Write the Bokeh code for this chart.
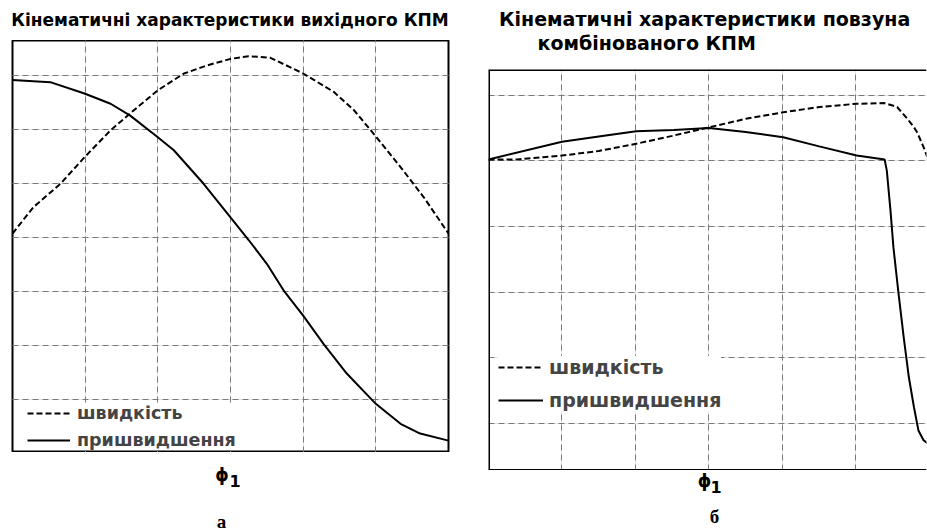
from bokeh.plotting import figure
from bokeh.models import Range1d, Grid, FixedTicker, Legend, LegendItem, Label, Span
from bokeh.layouts import row, column
from bokeh.embed import file_html
from bokeh.resources import INLINE

# ---------------- data: panel "а" ----------------
a_vel_phi = [0, 0.29, 0.66, 0.99, 1.35, 1.67, 2.0, 2.36, 2.68, 3.0, 3.25, 3.55, 4.0, 4.42, 4.70, 5.01, 5.34, 5.66, 6.0]
a_vel = [4.07, 4.56, 4.99, 5.48, 5.98, 6.35, 6.72, 7.03, 7.18, 7.30, 7.35, 7.32, 7.03, 6.69, 6.35, 5.85, 5.30, 4.74, 4.07]
a_acc_phi = [0, 0.52, 0.99, 1.35, 1.62, 2.0, 2.22, 2.63, 3.0, 3.25, 3.50, 3.73, 4.0, 4.28, 4.60, 5.0, 5.34, 5.61, 6.0]
a_acc = [6.91, 6.87, 6.66, 6.47, 6.25, 5.85, 5.61, 4.99, 4.37, 3.95, 3.51, 3.02, 2.55, 2.03, 1.48, 0.92, 0.55, 0.37, 0.24]
a_xticks = [1, 2, 3, 4, 5]
a_yticks = [1, 2, 3, 4, 5, 6, 7]

# ---------------- data: panel "б" ----------------
b_vel_phi = [0, 0.39, 1.0, 1.5, 2.01, 2.5, 3.0, 3.5, 4.01, 4.5, 5.01, 5.38, 5.51, 5.56, 5.70, 5.79, 5.83, 5.92, 5.97]
b_vel = [5.02, 5.02, 5.08, 5.15, 5.26, 5.38, 5.51, 5.64, 5.74, 5.82, 5.87, 5.88, 5.84, 5.82, 5.64, 5.51, 5.44, 5.21, 5.06]
b_acc_phi = [0, 1.0, 1.5, 2.01, 2.52, 3.0, 3.5, 4.01, 4.5, 5.01, 5.39, 5.42, 5.47, 5.51, 5.58, 5.65, 5.72, 5.79, 5.85, 5.92, 5.98]
b_acc = [5.02, 5.29, 5.37, 5.45, 5.47, 5.50, 5.44, 5.36, 5.22, 5.08, 5.02, 4.85, 4.24, 3.68, 2.97, 2.31, 1.70, 1.24, 0.89, 0.74, 0.69]
b_xticks = [1, 2, 3, 4, 5]
b_yticks = [1, 2, 3, 4, 5, 6]

title_a = "Кінематичні характеристики вихідного КПМ"
title_b1 = "Кінематичні характеристики повзуна"
title_b2 = "комбінованого КПМ"
lbl_vel = "швидкість"
lbl_acc = "пришвидшення"
phi_txt = "ϕ"
sub_txt = "1"
cap_a = "а"
cap_b = "б"

SANS = "DejaVu Sans"
SERIF = "Liberation Serif"
GRID_COLOR = "#7a7a7a"


def add_grids(p, xt, yt):
    p.add_layout(Grid(dimension=0, ticker=FixedTicker(ticks=xt), grid_line_color=GRID_COLOR,
                      grid_line_dash="6 4", grid_line_width=1))
    p.add_layout(Grid(dimension=1, ticker=FixedTicker(ticks=yt), grid_line_color=GRID_COLOR,
                      grid_line_dash="6 4", grid_line_width=1))


def text_fig(fw, h, left, right):
    # a text strip whose frame lines up with the plot below/above it
    f = figure(frame_width=fw, frame_height=h, x_range=Range1d(0, fw), y_range=Range1d(0, h),
               min_border_left=left, min_border_right=right,
               min_border_top=0, min_border_bottom=0,
               x_axis_location=None, y_axis_location=None,
               output_backend="svg", toolbar_location=None)
    f.outline_line_color = None
    f.xgrid.visible = False
    f.ygrid.visible = False
    f.background_fill_color = "white"
    f.border_fill_color = "white"
    return f


def txt(f, x, y, s, font, size, align="left"):
    f.add_layout(Label(x=x, y=y, text=s, text_font=font, text_font_style="bold",
                       text_font_size=size, text_align=align, text_baseline="middle",
                       text_color="black"))


# ================= panel а =================
t1 = text_fig(436, 40, 12, 20)
txt(t1, -1.5, 20.5, title_a, SANS, "17px")

p1 = figure(frame_width=436, frame_height=412, min_border_left=12, min_border_right=20,
            min_border_top=0, min_border_bottom=0,
            x_range=Range1d(0, 6), y_range=Range1d(0.02, 7.64),
            x_axis_location=None, y_axis_location=None,
            output_backend="svg", toolbar_location=None)
p1.outline_line_color = "black"
p1.outline_line_width = 2
p1.background_fill_color = "white"
p1.border_fill_color = "white"
add_grids(p1, a_xticks, a_yticks)

r1v = p1.line(a_vel_phi, a_vel, line_color="black", line_width=2, line_dash="6 3")
r1a = p1.line(a_acc_phi, a_acc, line_color="black", line_width=2)

p1.add_layout(Legend(items=[LegendItem(label=lbl_vel, renderers=[r1v]),
                            LegendItem(label=lbl_acc, renderers=[r1a])],
                     location=(15, 2), margin=0, padding=2, spacing=7,
                     glyph_width=43, glyph_height=20, label_height=20, label_standoff=7,
                     label_text_font=SANS, label_text_font_style="bold",
                     label_text_font_size="17.5px",
                     border_line_color=None, background_fill_color="white",
                     background_fill_alpha=1))

c1 = text_fig(436, 80, 12, 20)
txt(c1, 209.5, 58, phi_txt, SANS, "17px", "center")
txt(c1, 222.5, 52, sub_txt, SANS, "16px", "center")
txt(c1, 209, 11, cap_a, SERIF, "19px", "center")

# ================= panel б =================
t2 = text_fig(438, 69, 20, 1)
txt(t2, 10.5, 50.1, title_b1, SANS, "19px")
txt(t2, 49, 26.1, title_b2, SANS, "19px")

p2 = figure(frame_width=438, frame_height=401, min_border_left=20, min_border_right=1,
            min_border_top=0, min_border_bottom=0,
            x_range=Range1d(0, 5.96), y_range=Range1d(0.279, 6.392),
            x_axis_location=None, y_axis_location=None,
            output_backend="svg", toolbar_location=None)
p2.outline_line_color = None
p2.background_fill_color = "white"
p2.border_fill_color = "white"
add_grids(p2, b_xticks, b_yticks)
p2.add_layout(Span(location=0, dimension="height", line_color="black", line_width=3))
p2.add_layout(Span(location=0.279, dimension="width", line_color="black", line_width=3))
p2.add_layout(Span(location=6.392, dimension="width", line_color="black", line_width=3))

r2v = p2.line(b_vel_phi, b_vel, line_color="black", line_width=2, line_dash="6 3")
r2a = p2.line(b_acc_phi, b_acc, line_color="black", line_width=2)

p2.add_layout(Legend(items=[LegendItem(label=lbl_vel, renderers=[r2v]),
                            LegendItem(label=lbl_acc, renderers=[r2a])],
                     location=(10, 59), margin=0, padding=5, spacing=11,
                     glyph_width=45, glyph_height=20, label_height=20, label_standoff=6,
                     label_text_font=SANS, label_text_font_style="bold",
                     label_text_font_size="19px",
                     border_line_color=None, background_fill_color="white",
                     background_fill_alpha=1))

c2 = text_fig(438, 62, 20, 1)
txt(c2, 216, 52, phi_txt, SANS, "17px", "center")
txt(c2, 227.5, 45.5, sub_txt, SANS, "16px", "center")
txt(c2, 226, 16, cap_b, SERIF, "19px", "center")

layout = row(column(t1, p1, c1), column(t2, p2, c2))
open("out.html", "w").write(file_html(layout, INLINE))
